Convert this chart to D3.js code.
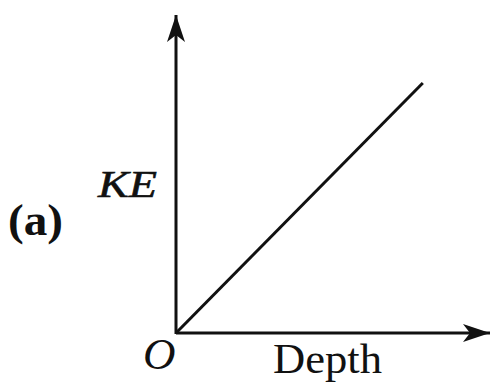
<!DOCTYPE html>
<html>
<head>
<meta charset="utf-8">
<script src="https://cdn.jsdelivr.net/npm/d3@7"></script>
<style>
  body { margin: 0; background: #fff; }
  svg { display: block; }
  text { fill: #111; }
</style>
</head>
<body>
<div class="chart"></div>
<script>
// KE grows linearly with depth
const depth = [0, 0.786];
const ke = [0, 0.786];
const xLabel = 'Depth';
const yLabel = 'KE';
const originLabel = 'O';
const panelLabel = '(a)';

const width = 493;
const height = 383;
const ox = 176;
const oy = 333;
const serif = 'Liberation Serif, Tinos, Times New Roman, serif';

const x = d3.scaleLinear().domain([0, 1]).range([ox, 490]);
const y = d3.scaleLinear().domain([0, 1]).range([oy, 15]);

const svg = d3.select('.chart').append('svg')
  .attr('width', width)
  .attr('height', height);

svg.append('defs').append('marker')
  .attr('id', 'arrow')
  .attr('viewBox', '-28 -10 30 20')
  .attr('refX', 0)
  .attr('refY', 0)
  .attr('markerUnits', 'userSpaceOnUse')
  .attr('markerWidth', 30)
  .attr('markerHeight', 20)
  .attr('orient', 'auto')
  .append('path')
  .attr('d', 'M0,0 L-27,-9 L-20,0 L-27,9 Z')
  .attr('fill', '#111');

// axes
svg.append('line')
  .attr('x1', x(0)).attr('y1', y(0))
  .attr('x2', x(1)).attr('y2', y(0))
  .attr('stroke', '#111').attr('stroke-width', 3)
  .attr('marker-end', 'url(#arrow)');

svg.append('line')
  .attr('x1', x(0)).attr('y1', y(0) + 1)
  .attr('x2', x(0)).attr('y2', y(1))
  .attr('stroke', '#111').attr('stroke-width', 3)
  .attr('marker-end', 'url(#arrow)');

const pts = depth.map((d, i) => [d, ke[i]]);
svg.append('path')
  .datum(pts)
  .attr('fill', 'none')
  .attr('stroke', '#111')
  .attr('stroke-width', 3)
  .attr('d', d3.line().x(d => x(d[0])).y(d => y(d[1])));

// labels (scan is a bit wider than the font, so stretch to fit)
svg.append('text')
  .attr('x', 98).attr('y', 197)
  .attr('font-family', serif)
  .attr('font-size', 37).attr('font-style', 'italic')
  .attr('stroke', '#111').attr('stroke-width', 0.6)
  .attr('textLength', 59).attr('lengthAdjust', 'spacingAndGlyphs')
  .text(yLabel);

svg.append('text')
  .attr('x', 8).attr('y', 235)
  .attr('font-family', serif)
  .attr('font-size', 44).attr('font-weight', 'bold')
  .attr('textLength', 55).attr('lengthAdjust', 'spacingAndGlyphs')
  .text(panelLabel);

svg.append('text')
  .attr('x', 143).attr('y', 369)
  .attr('font-family', serif)
  .attr('font-size', 45).attr('font-style', 'italic')
  .text(originLabel);

svg.append('text')
  .attr('x', 273).attr('y', 373)
  .attr('font-family', serif)
  .attr('font-size', 43)
  .attr('textLength', 109).attr('lengthAdjust', 'spacingAndGlyphs')
  .text(xLabel);
</script>
</body>
</html>
